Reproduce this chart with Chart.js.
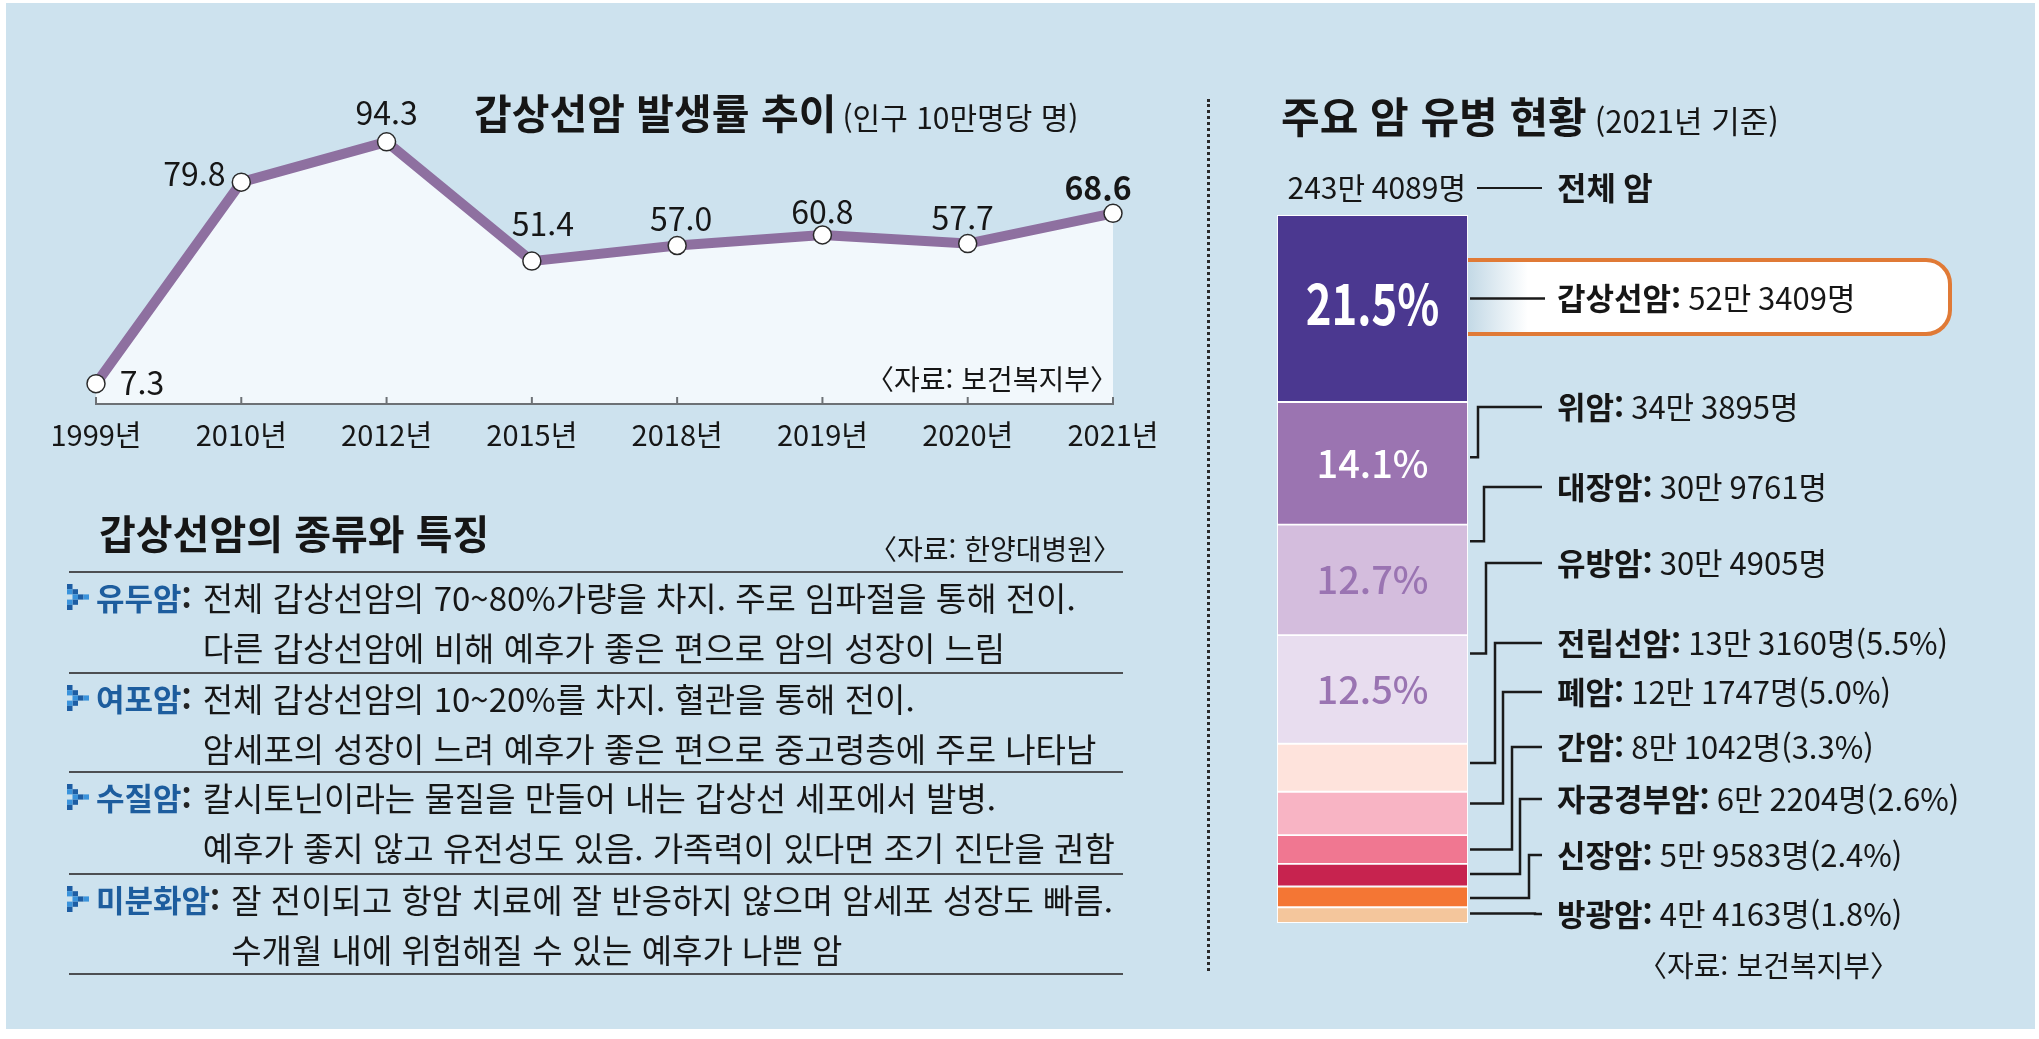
<!DOCTYPE html>
<html lang="ko"><head><meta charset="utf-8"><title>갑상선암 발생률 추이</title>
<script src="https://cdn.jsdelivr.net/npm/chart.js@4.4.1/dist/chart.umd.min.js"></script>
<style>
html,body{margin:0;padding:0;background:#fff}
body{position:relative;width:2039px;height:1039px;overflow:hidden;font-family:"Noto Sans CJK KR","Noto Sans",sans-serif;color:#161616}
#panel{position:absolute;left:6px;top:3px;width:2029px;height:1026px;background:#cde2ee}
canvas{position:absolute;left:0;top:0}
.t{position:absolute;white-space:nowrap;height:50px;line-height:50px;z-index:2}
.b{font-weight:700}
.sep{position:absolute;left:69px;width:1054px;height:2px;background:#4d4f52;z-index:2}
.row{position:absolute;left:96px;white-space:nowrap;font-size:33px;line-height:50px;z-index:2}
.row .lab{display:inline-block;vertical-align:top;font-weight:700;font-size:31px;color:#1d5d9e;margin-right:11px}
.row .lab i{font-style:normal;color:#222}
.row .desc{display:inline-block;vertical-align:top}
.chev{position:absolute;left:-29px;top:12px}
#dots{position:absolute;left:1207px;top:99px;height:872px;border-left:3px dotted #2a2a2a}
</style></head>
<body>
<div id="panel"></div>
<div id="dots"></div>
<canvas id="lineChart" width="2039" height="1039"></canvas>
<canvas id="barChart" width="2039" height="1039"></canvas>

<div class="t" style="left:474px;top:86px;font-size:41px"><span class="b">갑상선암 발생률 추이</span><span style="font-size:30px;margin-left:6px">(인구 10만명당 명)</span></div>
<div class="t" style="left:866px;top:353px;font-size:28px">〈자료: 보건복지부〉</div>

<div class="t b" style="left:99px;top:507px;font-size:40px">갑상선암의 종류와 특징</div>
<div class="t" style="right:918px;top:523px;font-size:28px">〈자료: 한양대병원〉</div>
<div id="table"></div>

<div class="t" style="left:1281px;top:90px;font-size:42px"><span class="b">주요 암 유병 현황</span><span style="font-size:31px;margin-left:8px">(2021년 기준)</span></div>
<div class="t" style="left:1638px;top:939px;font-size:29px">〈자료: 보건복지부〉</div>

<script>
const FONT = '"Noto Sans CJK KR", "Noto Sans", sans-serif';
Chart.defaults.font.family = FONT;
Chart.defaults.color = '#161616';

/* ---- 갑상선암 발생률 추이 ---- */
const years = ['1999년', '2010년', '2012년', '2015년', '2018년', '2019년', '2020년', '2021년'];
const incidence = [7.3, 79.8, 94.3, 51.4, 57.0, 60.8, 57.7, 68.6];

/* ---- 주요 암 유병 현황 ---- */
const cancerNames = ['갑상선암', '위암', '대장암', '유방암', '전립선암', '폐암', '간암', '자궁경부암', '신장암', '방광암'];
const cancerCounts = [523409, 343895, 309761, 304905, 133160, 121747, 81042, 62204, 59583, 44163];
const cancerShares = [21.5, 14.1, 12.7, 12.5, 5.5, 5.0, 3.3, 2.6, 2.4, 1.8];
const totalCount = 2434089;

/* ---- 갑상선암의 종류와 특징 ---- */
const typeNames = ['유두암', '여포암', '수질암', '미분화암'];
const typeLines = [
  ['전체 갑상선암의 70~80%가량을 차지. 주로 임파절을 통해 전이.', '다른 갑상선암에 비해 예후가 좋은 편으로 암의 성장이 느림'],
  ['전체 갑상선암의 10~20%를 차지. 혈관을 통해 전이.', '암세포의 성장이 느려 예후가 좋은 편으로 중고령층에 주로 나타남'],
  ['칼시토닌이라는 물질을 만들어 내는 갑상선 세포에서 발병.', '예후가 좋지 않고 유전성도 있음. 가족력이 있다면 조기 진단을 권함'],
  ['잘 전이되고 항암 치료에 잘 반응하지 않으며 암세포 성장도 빠름.', '수개월 내에 위험해질 수 있는 예후가 나쁜 암']
];

/* styles / layout */
const segColors = ['#4b3890', '#9b74b1', '#d4bddd', '#e8ddef', '#fee3dc', '#f8b4c4', '#f07791', '#c7234f', '#f47634', '#f4c69c'];
const labelOffsets = [[46, -1], [-47, -8], [0, -29], [11, -37], [4, -27], [0, -23], [-5, -26], [-15, -25]];
const labelY = [298, 407, 487, 563, 643, 692, 747, 799, 855, 914];
const elbowX = [0, 1478, 1484, 1486, 1495, 1503, 1512, 1520, 1529, 1535];
const anchorFrac = [0.446, 0.45, 0.15, 0.17, 0.4, 0.27, 0.5, 0.45, 0.55, 0.4];
const sepY = [571, 672, 771, 873, 973];

// table
const table = document.getElementById('table');
sepY.forEach(y => {
  const d = document.createElement('div');
  d.className = 'sep'; d.style.top = y + 'px';
  table.appendChild(d);
});
const DK = '#1d5da3', LT = '#3a93dc';
const chevCells = [[0, 0, DK], [0, 1, LT], [1, 1, DK], [1, 2, LT], [2, 2, DK], [3, 2, LT], [1, 3, DK], [0, 3, LT], [0, 4, DK]];
const chevron = '<svg class="chev" width="24" height="26" viewBox="0 0 24 26">' +
  chevCells.map(c => '<rect x="' + c[0] * 5.5 + '" y="' + c[1] * 5.2 + '" width="5.5" height="5.2" fill="' + c[2] + '"/>').join('') +
  '</svg>';
typeNames.forEach((name, i) => {
  const r = document.createElement('div');
  r.className = 'row';
  r.style.top = (sepY[i] + 1) + 'px';
  r.innerHTML = chevron + '<span class="lab">' + name + '<i>:</i></span><span class="desc">' +
    typeLines[i][0] + '<br>' + typeLines[i][1] + '</span>';
  table.appendChild(r);
});

// line chart
const lineDecor = {
  id: 'lineDecor',
  afterDatasetsDraw(chart) {
    const ctx = chart.ctx;
    const x = chart.scales.x;
    const base = chart.chartArea.bottom;
    const pts = chart.getDatasetMeta(0).data;
    ctx.save();
    ctx.strokeStyle = '#6d7175';
    ctx.lineWidth = 2;
    years.forEach((_, i) => {
      const px = x.getPixelForValue(i);
      ctx.beginPath(); ctx.moveTo(px, base); ctx.lineTo(px, base - 7); ctx.stroke();
    });
    ctx.textAlign = 'center';
    ctx.textBaseline = 'middle';
    ctx.fillStyle = '#161616';
    pts.forEach((p, i) => {
      const last = i === pts.length - 1;
      ctx.font = (last ? '700 ' : '400 ') + '32px ' + FONT;
      ctx.fillText(incidence[i].toFixed(1), p.x + labelOffsets[i][0], p.y + labelOffsets[i][1]);
    });
    ctx.restore();
  }
};

new Chart(document.getElementById('lineChart'), {
  type: 'line',
  data: {
    labels: years,
    datasets: [{
      data: incidence,
      borderColor: '#8e70a0',
      borderWidth: 10,
      borderJoinStyle: 'round',
      tension: 0,
      fill: 'origin',
      backgroundColor: '#f2f8fc',
      pointRadius: 9,
      pointHoverRadius: 9,
      pointBackgroundColor: '#ffffff',
      pointBorderColor: '#2a2a2a',
      pointBorderWidth: 1.5
    }]
  },
  options: {
    responsive: false,
    animation: false,
    events: [],
    layout: { padding: { left: 96, right: 926, top: 126, bottom: 575 } },
    plugins: { legend: { display: false }, tooltip: { enabled: false } },
    scales: {
      x: {
        offset: false,
        grid: { display: false, drawTicks: false },
        border: { display: true, color: '#6d7175', width: 2, z: 1 },
        ticks: { color: '#161616', font: { size: 29 }, padding: 14, maxRotation: 0, autoSkip: false },
        afterFit(s) { s.height = 60; }
      },
      y: { display: false, min: 0, max: 100 }
    }
  },
  plugins: [lineDecor]
});

// stacked bar
function fmtCount(n) {
  return Math.floor(n / 10000) + '만 ' + String(n % 10000).padStart(4, '0') + '명';
}
const shareTotal = cancerShares.reduce((a, b) => a + b, 0);

const barDecor = {
  id: 'barDecor',
  beforeDatasetsDraw(chart) {
    const ctx = chart.ctx, a = chart.chartArea;
    const l = a.right - 6, r = 1950, t = 260, b = 334, rad = 24;
    ctx.save();
    const g = ctx.createLinearGradient(a.right, 0, a.right + 60, 0);
    g.addColorStop(0, '#c3d9e6'); g.addColorStop(1, '#ffffff');
    ctx.beginPath();
    ctx.moveTo(l, t); ctx.lineTo(r - rad, t); ctx.arcTo(r, t, r, t + rad, rad);
    ctx.lineTo(r, b - rad); ctx.arcTo(r, b, r - rad, b, rad); ctx.lineTo(l, b);
    ctx.fillStyle = g; ctx.fill();
    ctx.strokeStyle = '#e07a36'; ctx.lineWidth = 4; ctx.stroke();
    ctx.restore();
  },
  afterDatasetsDraw(chart) {
    const ctx = chart.ctx, a = chart.chartArea;
    const lineEnd = 1542, textX = 1557;
    ctx.save();
    ctx.textBaseline = 'middle';
    // total
    ctx.fillStyle = '#161616';
    ctx.textAlign = 'right';
    ctx.font = '400 30px ' + FONT;
    ctx.fillText(fmtCount(totalCount), 1466, 188);
    ctx.strokeStyle = '#1a1a1a'; ctx.lineWidth = 2;
    ctx.beginPath(); ctx.moveTo(1477, 188); ctx.lineTo(lineEnd, 188); ctx.stroke();
    ctx.textAlign = 'left';
    ctx.font = '700 32px ' + FONT;
    ctx.fillText('전체 암', textX, 188);

    cancerNames.forEach((name, i) => {
      const el = chart.getDatasetMeta(i).data[0];
      const top = Math.min(el.y, el.base), bot = Math.max(el.y, el.base);
      const h = bot - top;
      // percent inside bar
      if (i < 4) {
        ctx.textAlign = 'center';
        ctx.fillStyle = i < 2 ? '#ffffff' : '#9a74b2';
        const txt = cancerShares[i].toFixed(1) + '%';
        if (i === 0) {
          ctx.save();
          ctx.translate(el.x, top + h / 2 - 5);
          ctx.scale(0.78, 1);
          ctx.font = '700 56px ' + FONT;
          ctx.fillText(txt, 0, 0);
          ctx.restore();
        } else {
          ctx.font = '500 38px ' + FONT;
          ctx.fillText(txt, el.x, top + h / 2);
        }
      }
      // leader
      const ay = top + h * anchorFrac[i];
      const ly = i === 0 ? ay : labelY[i];
      ctx.strokeStyle = '#1a1a1a'; ctx.lineWidth = 2.5;
      ctx.beginPath();
      ctx.moveTo(a.right + 2, ay);
      if (i > 0) { ctx.lineTo(elbowX[i], ay); ctx.lineTo(elbowX[i], ly); }
      ctx.lineTo(i === 0 ? 1545 : lineEnd, ly);
      ctx.stroke();
      // label
      ctx.textAlign = 'left';
      ctx.fillStyle = '#161616';
      ctx.font = '700 31px ' + FONT;
      const nm = name + ': ';
      ctx.fillText(nm, textX, ly);
      const w = ctx.measureText(nm).width;
      ctx.font = '400 31px ' + FONT;
      let val = fmtCount(cancerCounts[i]);
      if (i >= 4) val += '(' + cancerShares[i].toFixed(1) + '%)';
      ctx.fillText(val, textX + w, ly);
    });
    ctx.restore();
  }
};

new Chart(document.getElementById('barChart'), {
  type: 'bar',
  data: {
    labels: ['2021'],
    datasets: cancerNames.map((n, i) => ({
      label: n,
      data: [cancerShares[i]],
      backgroundColor: segColors[i],
      borderColor: '#ffffff',
      borderWidth: 1.3,
      borderSkipped: false,
      barPercentage: 1,
      categoryPercentage: 1
    }))
  },
  options: {
    responsive: false,
    animation: false,
    events: [],
    layout: { padding: { left: 1277, right: 571, top: 215, bottom: 116 } },
    plugins: { legend: { display: false }, tooltip: { enabled: false } },
    scales: {
      x: { display: false, stacked: true },
      y: { display: false, stacked: true, reverse: true, min: 0, max: shareTotal }
    }
  },
  plugins: [barDecor]
});
</script>
</body></html>
